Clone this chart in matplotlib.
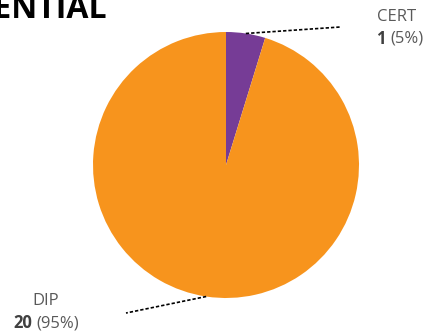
import numpy as np
import matplotlib.pyplot as plt

# credential counts
labels = ["CERT", "DIP"]
counts = [1, 20]
colors = ["#763C96", "#F7941D"]

plt.rcParams['font.family'] = ['Open Sans', 'DejaVu Sans']

fig = plt.figure(figsize=(4.27, 3.33), dpi=100)
W, H = 427, 333
cx, cy, r = 226, 165, 133
ax = fig.add_axes([(cx - r) / W, (H - cy - r) / H, 2 * r / W, 2 * r / H])
wedges, _ = ax.pie(counts, colors=colors, startangle=90, counterclock=False,
                   radius=1, wedgeprops=dict(linewidth=0))
ax.set_xlim(-1, 1)
ax.set_ylim(-1, 1)
ax.set_aspect('equal')

total = sum(counts)
# leader end points and label positions (data units, radius = 1)
line_ends = [(0.865, 1.038), (-0.752, -1.113)]
name_pos = [(1.286, 1.11), (-1.353, -1.02)]
val_y = [0.95, -1.19]
split_x = [1.20, -1.46]

for w, lab, n, end, npos, vy, sx in zip(wedges, labels, counts, line_ends,
                                         name_pos, val_y, split_x):
    mid = np.deg2rad((w.theta1 + w.theta2) / 2)
    start = (np.cos(mid), np.sin(mid))
    ax.plot([start[0], end[0]], [start[1], end[1]], ls=(0, (2, 1.2)),
            color='black', lw=1.2, clip_on=False)
    ax.text(npos[0], npos[1], lab, ha='center', va='center', fontsize=12,
            color='#595959', clip_on=False)
    ax.text(sx, vy, str(n), ha='right', va='center', fontsize=12,
            fontweight='bold', color='#404040', clip_on=False)
    ax.text(sx + 0.035, vy, "(%d%%)" % round(100 * n / total), ha='left',
            va='center', fontsize=12, color='#595959', clip_on=False)

fig.text(107 / W, (H - 18) / H, "CREDENTIAL", ha='right', va='baseline',
         fontsize=23, fontweight='bold', color='black')

fig.savefig("out.png", dpi=100)
